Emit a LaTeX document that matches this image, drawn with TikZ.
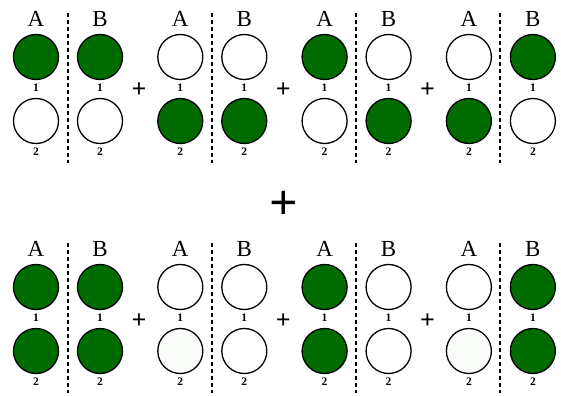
\documentclass[tikz,border=0pt]{standalone}
\usepackage{fontspec}
\setmainfont{Liberation Serif}
\usepackage{tikz}
\usetikzlibrary{positioning}

\definecolor{dkgreen}{RGB}{0,108,0}
\definecolor{faintgrey}{RGB}{250,252,250}

\tikzset{
  ball/.style={circle, draw, line width=1.3pt, minimum size=45pt, inner sep=0pt},
  num/.style={inner sep=0pt, font=\fontsize{11.5}{13}\selectfont\bfseries},
  side/.style={inner sep=0pt, font=\fontsize{23}{25}\selectfont},
  plus/.style={inner sep=0pt, font=\fontsize{26}{28}\selectfont\bfseries},
  bigplus/.style={inner sep=0pt, font=\fontsize{50}{52}\selectfont\bfseries},
  wall/.style={line width=1.7pt, dash pattern=on 4pt off 3pt}
}

\begin{document}
\begin{tikzpicture}[x=1pt, y=-1pt]
    \useasboundingbox (0,0) rectangle (563,396);
    % block / column / row offset / fills A1 A2 B1 B2
    \foreach \n/\col/\row/\fa/\fb/\fc/\fd in {
        1/0/0/dkgreen/white/dkgreen/white,
        2/1/0/white/dkgreen/white/dkgreen,
        3/2/0/dkgreen/white/white/dkgreen,
        4/3/0/white/dkgreen/dkgreen/white,
        5/0/230/dkgreen/dkgreen/dkgreen/dkgreen,
        6/1/230/white/faintgrey/white/white,
        7/2/230/dkgreen/dkgreen/white/white,
        8/3/230/white/faintgrey/dkgreen/dkgreen}{
        \pgfmathsetmacro\xa{36+144.3*\col}
        \pgfmathsetmacro\xb{100+144.3*\col}
        \pgfmathsetmacro\xm{68+144*\col}
        \node[ball, fill=\fa] (a1-\n) at (\xa, 57+\row) {};
        \node[ball, fill=\fb] (a2-\n) at (\xa, 121+\row) {};
        \node[ball, fill=\fc] (b1-\n) at (\xb, 57+\row) {};
        \node[ball, fill=\fd] (b2-\n) at (\xb, 121+\row) {};
        \node[side, above=7pt of a1-\n] (la-\n) {A};
        \node[side, above=7pt of b1-\n] (lb-\n) {B};
        \node[num, below=4pt of a1-\n] (na1-\n) {1};
        \node[num, below=4pt of a2-\n] (na2-\n) {2};
        \node[num, below=4pt of b1-\n] (nb1-\n) {1};
        \node[num, below=4pt of b2-\n] (nb2-\n) {2};
        \coordinate (wt-\n) at (\xm, 13+\row);
        \coordinate (wb-\n) at (\xm, 163+\row);
        \draw[wall] (wt-\n) -- (wb-\n);
    }
    % small plus signs between blocks
    \foreach \col in {0,1,2}{
        \node[plus] at (139+144.3*\col, 90) {+};
        \node[plus] at (139+144.3*\col, 321) {+};
    }
    \node[bigplus] (join) at (284, 205) {+};
\end{tikzpicture}
\end{document}
